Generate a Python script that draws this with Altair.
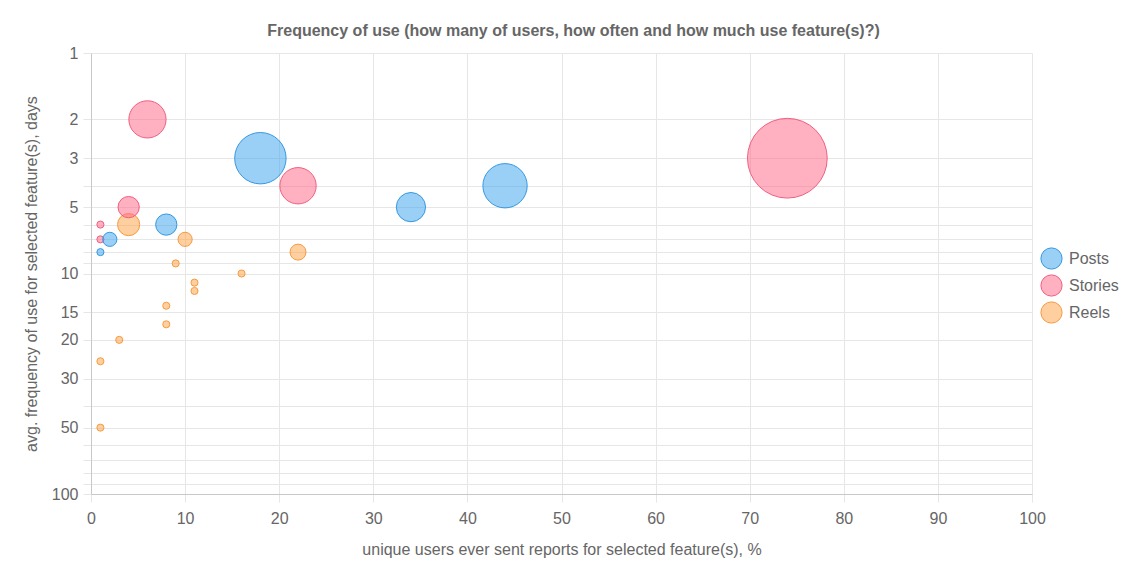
import altair as alt
import pandas as pd

# Data (x = % users, y = days, r = bubble radius px)
series_order = ["Posts", "Stories", "Reels"]

posts_x = [18, 34, 44, 8, 2, 1]
posts_y = [3, 5, 4, 6, 7, 8]
posts_r = [29, 16.5, 25, 12, 8, 4]

stories_x = [6, 22, 74, 4, 1, 1]
stories_y = [2, 4, 3, 5, 6, 7]
stories_r = [21, 20.5, 45, 12, 4, 4]

reels_x = [4, 10, 22, 9, 16, 11, 11, 8, 8, 3, 1, 1]
reels_y = [6, 7, 8, 9, 10, 11, 12, 14, 17, 20, 25, 50]
reels_r = [12.5, 8, 9, 4, 4, 4, 4, 4, 4, 4, 4, 4]

y_grid_values = [1, 2, 3, 4, 5, 6, 7, 8, 9, 10, 15, 20, 30, 40, 50, 60, 70, 80, 90, 100]
y_label_values = [1, 2, 3, 5, 10, 15, 20, 30, 50, 100]
x_tick_values = [0, 10, 20, 30, 40, 50, 60, 70, 80, 90, 100]

fill_colors = ["rgba(54,162,235,0.5)", "rgba(255,99,132,0.5)", "rgba(255,159,64,0.5)"]
stroke_colors = ["rgb(54,152,225)", "rgb(240,95,127)", "rgb(245,155,64)"]

rows = []
# draw order: Reels first, then Stories, then Posts (Posts on top)
for name, xs, ys, rs in [("Reels", reels_x, reels_y, reels_r),
                         ("Stories", stories_x, stories_y, stories_r),
                         ("Posts", posts_x, posts_y, posts_r)]:
    for x, y, r in zip(xs, ys, rs):
        rows.append({"series": name, "x": x, "y": y, "r": r})
df = pd.DataFrame(rows)

FONT = "Liberation Sans"
TXT = "#666666"

label_list = ",".join(str(v) for v in y_label_values)

legend = alt.Legend(
    title=None, orient="none", legendX=949, legendY=194,
    labelFontSize=16, labelColor=TXT, labelFont=FONT,
    symbolType="circle", symbolSize=450, symbolStrokeWidth=1,
    rowPadding=0, labelOffset=6, padding=0,
)

chart = alt.Chart(df).transform_calculate(
    area="PI * datum.r * datum.r"
).mark_circle(fillOpacity=1, strokeWidth=1, strokeOpacity=1).encode(
    x=alt.X("x:Q", scale=alt.Scale(domain=[0, 100], nice=False, zero=True),
            axis=alt.Axis(values=x_tick_values, labelPadding=8,
                          title="unique users ever sent reports for selected feature(s), %")),
    y=alt.Y("y:Q", scale=alt.Scale(type="log", domain=[1, 100], reverse=True, nice=False),
            axis=alt.Axis(values=y_grid_values,
                          labelExpr=f"indexof([{label_list}], datum.value) >= 0 ? datum.value : ''",
                          title="avg. frequency of use for selected feature(s), days")),
    fill=alt.Fill("series:N", scale=alt.Scale(domain=series_order, range=fill_colors), legend=legend),
    stroke=alt.Stroke("series:N", scale=alt.Scale(domain=series_order, range=stroke_colors), legend=legend),
    size=alt.Size("area:Q", scale=None),
).properties(
    width=941,
    height=441,
    autosize=alt.AutoSizeParams(type="none"),
    padding={"left": 83, "top": 45, "right": 104, "bottom": 70},
    title=alt.TitleParams(
        "Frequency of use (how many of users, how often and how much use feature(s)?)",
        fontSize=16, font=FONT, fontWeight="bold", color=TXT, anchor="middle",
        offset=6, dx=12,
    ),
).configure_view(stroke=None).configure_axis(
    labelFont=FONT, labelFontSize=16, labelColor=TXT,
    titleFont=FONT, titleFontSize=16, titleColor=TXT, titleFontWeight="normal",
    gridColor="#e6e6e6", gridWidth=1, tickColor="#e6e6e6", tickSize=8,
    domainColor="#c8c8c8", labelPadding=5,
).configure_axisY(titlePadding=12, labelFlush=False).configure_axisX(titlePadding=15, labelFlush=False)

chart.save("out.html", embed_options={"renderer": "svg", "actions": False})
